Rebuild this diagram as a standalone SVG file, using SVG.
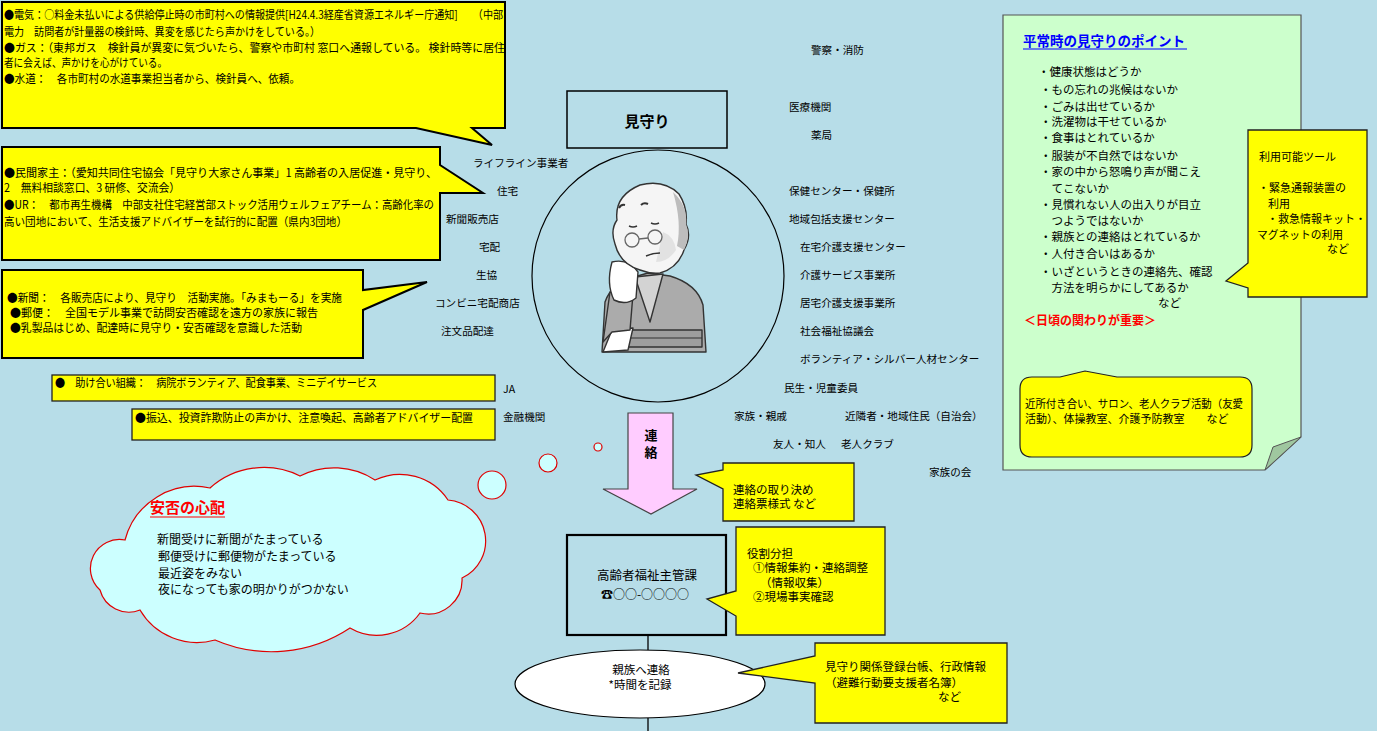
<svg xmlns="http://www.w3.org/2000/svg" width="1377" height="731" viewBox="0 0 1377 731">
  <style>
    text { font-family: "Noto Sans CJK JP", "Noto Sans CJK SC", sans-serif; fill: #000; }
    .t11 { font-size: 11px; }
    .lbl { font-size: 10.6px; }
    .t115 { font-size: 11.5px; }
    .t12 { font-size: 12px; }
    .b { font-weight: bold; }
    .mid { text-anchor: middle; }
    .yel { fill: #FFFF00; stroke: #000; stroke-width: 2; stroke-linejoin: miter; }
    .yel1 { fill: #FFFF00; stroke: #222; stroke-width: 1.3; }
    .box { fill: none; stroke: #000; stroke-width: 1.5; }
    .conn { fill: none; stroke: #000; stroke-width: 1.3; }
    .fig { stroke: #333; stroke-width: 1.4; stroke-linejoin: round; }
  </style>

  <!-- background -->
  <rect x="0" y="0" width="1377" height="731" fill="#B7DDE8"/>

  <!-- lifeline callout -->
  <g id="callout-lifeline">
    <path class="yel" d="M2,2 H505 V128 H472 L492,145 L416,128 H2 Z"/>
    <text class="t115" x="4" y="19" textLength="499" lengthAdjust="spacingAndGlyphs">●電気：○料金未払いによる供給停止時の市町村への情報提供[H24.4.3経産省資源エネルギー庁通知]　　（中部</text>
    <text class="t115" x="4" y="36" textLength="316" lengthAdjust="spacingAndGlyphs">電力　訪問者が計量器の検針時、異変を感じたら声かけをしている。）</text>
    <text class="t115" x="4" y="52" textLength="501" lengthAdjust="spacingAndGlyphs">●ガス：（東邦ガス　検針員が異変に気づいたら、警察や市町村 窓口へ通報している。 検針時等に居住</text>
    <text class="t115" x="4" y="67" textLength="163" lengthAdjust="spacingAndGlyphs">者に会えば、声かけを心がけている。</text>
    <text class="t115" x="4" y="83" textLength="296" lengthAdjust="spacingAndGlyphs">●水道：　各市町村の水道事業担当者から、検針員へ、依頼。</text>
  </g>

  <!-- housing callout -->
  <g id="callout-housing">
    <path class="yel" d="M2,147 H440 V165 L483,193 L440,193 V260 H2 Z"/>
    <text class="t115" x="4" y="177" textLength="433" lengthAdjust="spacingAndGlyphs">●民間家主：（愛知共同住宅協会「見守り大家さん事業」1 高齢者の入居促進・見守り、</text>
    <text class="t115" x="4" y="192" textLength="176" lengthAdjust="spacingAndGlyphs">2　無料相談窓口、3 研修、交流会）</text>
    <text class="t115" x="4" y="209" textLength="430" lengthAdjust="spacingAndGlyphs">●UR：　都市再生機構　中部支社住宅経営部ストック活用ウェルフェアチーム：高齢化率の</text>
    <text class="t115" x="4" y="226" textLength="343" lengthAdjust="spacingAndGlyphs">高い団地において、生活支援アドバイザーを試行的に配置（県内3団地）</text>
  </g>

  <!-- delivery callout -->
  <g id="callout-delivery">
    <path class="yel" d="M2,270 H363 V290 L427,282 L363,310 V358 H2 Z"/>
    <text class="t115" x="7" y="302" textLength="335" lengthAdjust="spacingAndGlyphs">●新聞：　各販売店により、見守り　活動実施。「みまもーる」を実施</text>
    <text class="t115" x="10" y="317" textLength="308" lengthAdjust="spacingAndGlyphs">●郵便：　全国モデル事業で訪問安否確認を遠方の家族に報告</text>
    <text class="t115" x="10" y="332" textLength="292" lengthAdjust="spacingAndGlyphs">●乳製品はじめ、配達時に見守り・安否確認を意識した活動</text>
  </g>

  <!-- JA box -->
  <g id="box-ja">
    <rect class="yel1" x="52" y="375" width="443" height="26"/>
    <text class="t115" x="55" y="387" textLength="322" lengthAdjust="spacingAndGlyphs">●　助け合い組織：　病院ボランティア、配食事業、ミニデイサービス</text>
  </g>

  <!-- bank box -->
  <g id="box-bank">
    <rect class="yel1" x="132" y="409" width="363" height="31"/>
    <text class="t115" x="135" y="422" textLength="338" lengthAdjust="spacingAndGlyphs">●振込、投資詐欺防止の声かけ、注意喚起、高齢者アドバイザー配置</text>
  </g>

  <!-- left-hand watchers -->
  <g id="labels-left">
    <text class="lbl" x="473" y="167">ライフライン事業者</text>
    <text class="lbl" x="497" y="195">住宅</text>
    <text class="lbl" x="446" y="223">新聞販売店</text>
    <text class="lbl" x="479" y="251">宅配</text>
    <text class="lbl" x="476" y="279">生協</text>
    <text class="lbl" x="435" y="307">コンビニ宅配商店</text>
    <text class="lbl" x="441" y="335">注文品配達</text>
    <text class="lbl" x="503" y="393">JA</text>
    <text class="lbl" x="503" y="421">金融機関</text>
  </g>

  <!-- right-hand watchers -->
  <g id="labels-right">
    <text class="lbl" x="811" y="54">警察・消防</text>
    <text class="lbl" x="789" y="111">医療機関</text>
    <text class="lbl" x="811" y="139">薬局</text>
    <text class="lbl" x="789" y="195">保健センター・保健所</text>
    <text class="lbl" x="789" y="223">地域包括支援センター</text>
    <text class="lbl" x="800" y="251">在宅介護支援センター</text>
    <text class="lbl" x="800" y="279">介護サービス事業所</text>
    <text class="lbl" x="800" y="307">居宅介護支援事業所</text>
    <text class="lbl" x="800" y="335">社会福祉協議会</text>
    <text class="lbl" x="800" y="363">ボランティア・シルバー人材センター</text>
    <text class="lbl" x="784" y="392">民生・児童委員</text>
    <text class="lbl" x="734" y="420">家族・親戚</text>
    <text class="lbl" x="845" y="420">近隣者・地域住民（自治会）</text>
    <text class="lbl" x="773" y="448">友人・知人</text>
    <text class="lbl" x="841" y="448">老人クラブ</text>
    <text class="lbl" x="929" y="476">家族の会</text>
  </g>

  <!-- title box -->
  <g id="node-mimamori">
    <rect class="box" x="567" y="91" width="160" height="57"/>
    <text class="b mid" x="647" y="127" font-size="15">見守り</text>
  </g>

  <!-- elderly person in circle -->
  <g id="node-person">
    <circle cx="658" cy="276" r="126" fill="none" stroke="#000" stroke-width="1.2"/>
    <!-- sweater -->
    <path class="fig" d="M602,352 L605,302 Q611,284 634,277 L648,273 L670,276 Q697,284 703,305 L706,352 Z" fill="#ABABAB"/>
    <path class="fig" d="M635,277 L650,322 L663,274 Z" fill="#D3D3D3" stroke-width="1.2"/>
    <!-- folded arm -->
    <path class="fig" d="M622,330 H702 V347 H616 Z" fill="#9E9E9E"/>
    <path d="M618,338 H702" stroke="#333" stroke-width="1"/>
    <path class="fig" d="M612,330 L633,328 L628,350 L603,352 Z" fill="#FFFFFF"/>
    <!-- raised forearm and hand -->
    <path class="fig" d="M603,342 L610,292 L633,294 L630,330 L612,332 Z" fill="#ABABAB"/>
    <path class="fig" d="M612,262 Q606,284 614,300 Q626,306 636,298 L638,272 Q628,258 612,262 Z" fill="#FFFFFF"/>
    <!-- head -->
    <path class="fig" d="M640,270 Q620,264 615,244 Q610,230 617,220 Q614,196 640,185 Q664,179 679,194 Q688,208 686,224 Q692,236 684,250 Q678,268 660,273 Q650,274 640,270 Z" fill="#F5F5F5"/>
    <path d="M673,192 Q688,206 686,224 Q691,236 684,250 L677,246 Q682,222 673,192 Z" fill="#BDBDBD"/>
    <path d="M663,232 Q674,236 676,250 Q668,262 656,262 Z" fill="#E2E2E2"/>
    <!-- face details -->
    <path d="M619,208 q2,-4 6,-3 M641,205 q3,-3 7,-1" stroke="#333" stroke-width="2" fill="none"/>
    <path d="M629,226 q4,2 8,0 M651,223 q4,2 8,0" stroke="#333" stroke-width="1.4" fill="none"/>
    <circle cx="632" cy="240" r="7" fill="none" stroke="#666" stroke-width="1.3"/>
    <circle cx="655" cy="237" r="7" fill="none" stroke="#666" stroke-width="1.3"/>
    <path d="M639,239 L648,238" stroke="#666" stroke-width="1.3"/>
    <path d="M646,256 q7,-3 14,-3" stroke="#333" stroke-width="1.4" fill="none"/>
  </g>

  <!-- thought cloud -->
  <g id="node-concern">
    <circle cx="598" cy="447" r="4" fill="#CCFFFF" stroke="#E00000" stroke-width="1.2"/>
    <circle cx="548" cy="463" r="9" fill="#CCFFFF" stroke="#E00000" stroke-width="1.2"/>
    <circle cx="492" cy="485" r="14" fill="#CCFFFF" stroke="#E00000" stroke-width="1.2"/>
    <path d="M125,540 A72,72 0 0 1 210,488 A81,81 0 0 1 300,476 A75,75 0 0 1 375,480 A58,58 0 0 1 448,500 A41,41 0 0 1 462,578 A34,34 0 0 1 420,613 A53,53 0 0 1 350,628 A142,142 0 0 1 215,640 A66,66 0 0 1 140,610 A30,30 0 0 1 100,590 A29,29 0 0 1 125,540 Z" fill="#CCFFFF" stroke="#E00000" stroke-width="1.2"/>
    <text class="b" x="150" y="513" font-size="15" style="fill:#FF0000">安否の心配</text>
    <line x1="150" y1="517" x2="225" y2="517" stroke="#FF0000" stroke-width="1.2"/>
    <text class="t12" x="157" y="544">新聞受けに新聞がたまっている</text>
    <text class="t12" x="158" y="561">郵便受けに郵便物がたまっている</text>
    <text class="t12" x="158" y="578">最近姿をみない</text>
    <text class="t12" x="158" y="594">夜になっても家の明かりがつかない</text>
  </g>

  <!-- contact arrow -->
  <g id="node-contact-arrow">
    <path d="M628,413 H673 V489 H697 L651,514 L603,489 H628 Z" fill="#FFCCFF" stroke="#444" stroke-width="1.2"/>
    <text class="b mid" x="651" y="440" font-size="13">連</text>
    <text class="b mid" x="651" y="457" font-size="13">絡</text>
  </g>

  <!-- contact rules callout -->
  <g id="callout-rules">
    <path class="yel1" d="M723,463 H854 V521 H723 V489 L696,475 L723,470 Z"/>
    <text class="t115" x="733" y="494">連絡の取り決め</text>
    <text class="t115" x="733" y="508">連絡票様式 など</text>
  </g>

  <!-- welfare section -->
  <g id="node-welfare">
    <rect x="567" y="535" width="159" height="100" fill="none" stroke="#000" stroke-width="2.2"/>
    <text class="mid" x="647" y="580" font-size="12.5">高齢者福祉主管課</text>
    <text class="mid" x="645" y="599" font-size="12">☎○○-○○○○</text>
  </g>

  <!-- roles callout -->
  <g id="callout-roles">
    <path class="yel1" d="M736,527 H885 V635 H736 V616 L707,599 L736,591 Z"/>
    <text class="t115" x="747" y="558">役割分担</text>
    <text class="t115" x="753" y="572">①情報集約・連絡調整</text>
    <text class="t115" x="760" y="587">（情報収集）</text>
    <text class="t115" x="753" y="601">②現場事実確認</text>
  </g>

  <!-- family contact -->
  <g id="node-family">
    <ellipse cx="640" cy="684" rx="125" ry="34" fill="#FFFFFF" stroke="#000" stroke-width="1.2"/>
    <text class="t115 mid" x="641" y="674">親族へ連絡</text>
    <text class="t115 mid" x="640" y="689">*時間を記録</text>
  </g>

  <!-- register callout -->
  <g id="callout-register">
    <path class="yel1" d="M815,643 H1007 V723 H815 V683 L738,673 L815,656 Z"/>
    <text class="t115" x="825" y="671">見守り関係登録台帳、行政情報</text>
    <text class="t115" x="825" y="687">（避難行動要支援者名簿）</text>
    <text class="t115" x="938" y="701">など</text>
  </g>

  <!-- connectors -->
  <g id="connectors">
    <line class="conn" x1="648" y1="635" x2="648" y2="650"/>
    <line class="conn" x1="648" y1="718" x2="648" y2="731"/>
  </g>

  <!-- everyday points panel -->
  <g id="panel-points">
    <path d="M1003,15 H1301 V437 L1265,470 H1003 Z" fill="#CCFFCC" stroke="#555" stroke-width="1.2"/>
    <path d="M1301,437 L1273,447 L1265,470 Z" fill="#9FC79F" stroke="#555" stroke-width="1"/>
    <text class="b" x="1023" y="46" font-size="13.5" style="fill:#0000FF">平常時の見守りのポイント</text>
    <line x1="1023" y1="49" x2="1187" y2="49" stroke="#0000FF" stroke-width="1.2"/>
    <g font-size="11.5">
      <text x="1038" y="76">・健康状態はどうか</text>
      <text x="1040" y="94">・もの忘れの兆候はないか</text>
      <text x="1040" y="111">・ごみは出せているか</text>
      <text x="1040" y="126">・洗濯物は干せているか</text>
      <text x="1040" y="142">・食事はとれているか</text>
      <text x="1040" y="160">・服装が不自然ではないか</text>
      <text x="1040" y="176">・家の中から怒鳴り声が聞こえ</text>
      <text x="1040" y="193">　てこないか</text>
      <text x="1040" y="209">・見慣れない人の出入りが目立</text>
      <text x="1040" y="225">　つようではないか</text>
      <text x="1040" y="241">・親族との連絡はとれているか</text>
      <text x="1040" y="258">・人付き合いはあるか</text>
      <text x="1040" y="276">・いざというときの連絡先、確認</text>
      <text x="1040" y="292">　方法を明らかにしてあるか</text>
      <text x="1158" y="307">など</text>
    </g>
    <text class="b" x="1024" y="325" font-size="12" style="fill:#FF0000">＜日頃の関わりが重要＞</text>
  </g>

  <!-- tools callout -->
  <g id="callout-tools">
    <path class="yel1" d="M1248,130 H1367 V297 H1248 V288 L1226,281 L1248,263 Z"/>
    <text class="t11" x="1259" y="161">利用可能ツール</text>
    <text class="t11" x="1258" y="192">・緊急通報装置の</text>
    <text class="t11" x="1268" y="208">利用</text>
    <text class="t11" x="1267" y="223">・救急情報キット・</text>
    <text class="t11" x="1257" y="239" textLength="86" lengthAdjust="spacingAndGlyphs">マグネットの利用</text>
    <text class="t11" x="1327" y="253">など</text>
  </g>

  <!-- community callout -->
  <g id="callout-community">
    <path d="M1032,377 H1060 L1085,371 L1117,377 H1240 Q1252,377 1252,389 V445 Q1252,457 1240,457 H1032 Q1020,457 1020,445 V389 Q1020,377 1032,377 Z" fill="#FFFF00" stroke="#222" stroke-width="1.2"/>
    <text class="t11" x="1025" y="408" textLength="218" lengthAdjust="spacingAndGlyphs">近所付き合い、サロン、老人クラブ活動（友愛</text>
    <text class="t11" x="1025" y="423">活動）、体操教室、介護予防教室　　など</text>
  </g>
</svg>
